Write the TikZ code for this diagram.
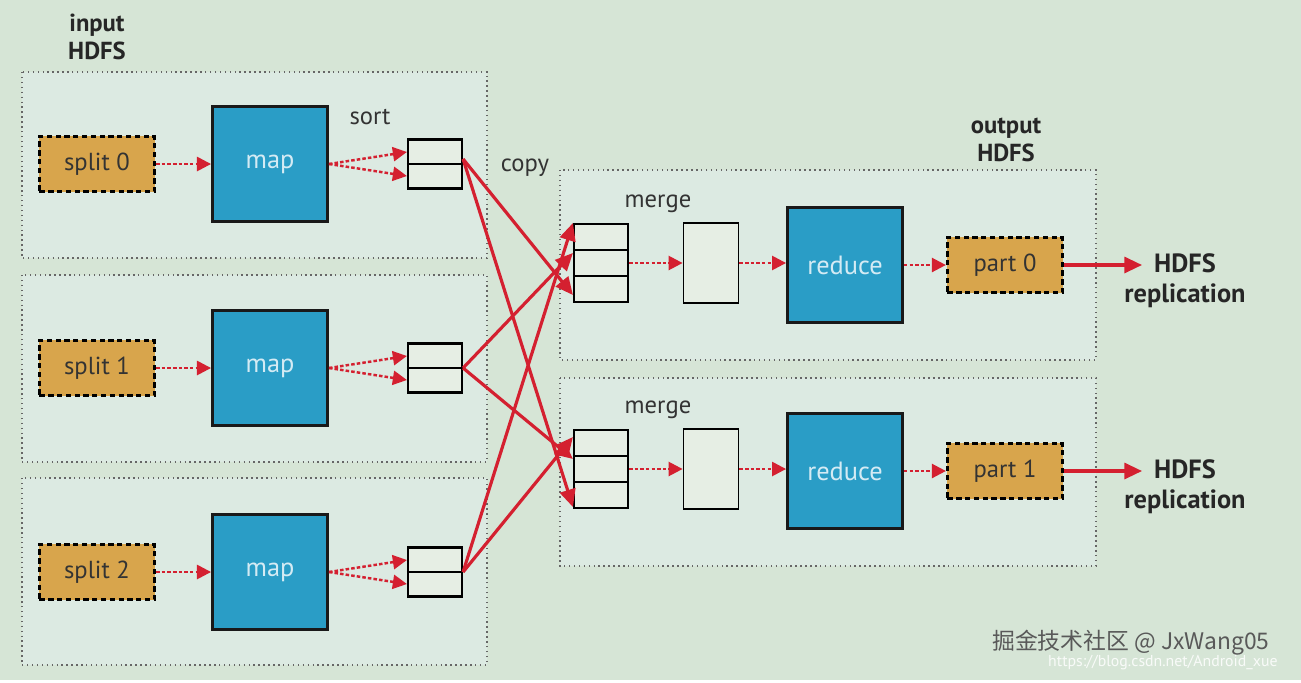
\documentclass[tikz,border=0pt]{standalone}
\usepackage{fontspec}
\setmainfont{PT Sans}
\newfontfamily\cjk{Noto Sans CJK SC}
\usetikzlibrary{arrows.meta}
\definecolor{bg}{HTML}{D6E5D6}
\definecolor{panel}{HTML}{DCEAE2}
\definecolor{orng}{HTML}{D8A54C}
\definecolor{blu}{HTML}{2A9DC6}
\definecolor{cell}{HTML}{E6EEE4}
\definecolor{arr}{HTML}{D42030}
\tikzset{
 panelbox/.style={draw=black!60,densely dotted,fill=panel,line width=0.4pt},
 split/.style={draw=black,dash pattern=on 1.5pt off 1pt,line width=0.9pt,fill=orng,minimum width=1.15cm,minimum height=0.55cm,inner sep=1pt,font=\fontsize{7}{7}\selectfont,text=black!80},
 mapb/.style={draw=black!90,line width=0.8pt,fill=blu,minimum width=1.15cm,minimum height=1.15cm,inner sep=1pt,text=blu!20,font=\fontsize{7.5}{7.5}\selectfont},
 buf/.style={draw=black,line width=0.6pt,fill=cell,minimum width=0.54cm,inner sep=0pt},
 dotar/.style={draw=arr,dash pattern=on 1pt off 0.6pt,line width=0.7pt,-{Triangle[length=4pt,width=4pt]}},
 copyar/.style={draw=arr,line width=0.9pt,-{Triangle[length=5pt,width=4.5pt]}},
 lbl/.style={font=\fontsize{7}{7}\selectfont,text=black!80},
 blbl/.style={font=\bfseries\fontsize{7}{8}\selectfont,align=center,text=black!85}
}
\begin{document}
\begin{tikzpicture}[x=0.01cm,y=-0.01cm]
\fill[bg] (0,0) rectangle (1301,680);
% panels
\foreach \n/\ya/\yb in {i0/72/258,i1/275/462,i2/478/665}
  \draw[panelbox] (22,\ya) rectangle (487,\yb);
\foreach \n/\ya/\yb in {o0/170/360,o1/378/566}
  \draw[panelbox] (560,\ya) rectangle (1096,\yb);
\node[blbl] (inlbl) at (97,37) {input\\HDFS};
\node[blbl] (outlbl) at (1006,140) {output\\HDFS};
% map side
\foreach \i/\y in {0/164,1/368,2/572}{
  \node[split] (s\i) at (97,\y) {split \i};
  \node[mapb] (m\i) at (270,\y) {map};
  \node[buf,minimum height=0.49cm] (b\i) at (435,\y) {};
  \draw[line width=0.6pt] (b\i.west) -- (b\i.east);
  \draw[dotar] (s\i) -- (m\i);
  \draw[dotar] (m\i.east) -- ([yshift=0.12cm]b\i.west);
  \draw[dotar] (m\i.east) -- ([yshift=-0.12cm]b\i.west);
}
\node[lbl] (sortl) at (370,117) {sort};
\node[lbl] (copyl) at (525,168) {copy};
% reduce side
\foreach \i/\y in {0/263,1/469}{
  \node[buf,minimum height=0.78cm] (g\i) at (601,\y) {};
  \draw[line width=0.6pt] ([yshift=0.13cm]g\i.west) -- ([yshift=0.13cm]g\i.east);
  \draw[line width=0.6pt] ([yshift=-0.13cm]g\i.west) -- ([yshift=-0.13cm]g\i.east);
  \node[buf,minimum width=0.55cm,minimum height=0.8cm,line width=0.5pt] (c\i) at (711,\y) {};
  \node[mapb] (r\i) at (845,\y+2) {reduce};
  \node[split] (p\i) at (1005,\y+2) {part \i};
  \node[blbl,font=\bfseries\fontsize{7.5}{8.5}\selectfont] (h\i) at (1185,\y+18) {HDFS\\replication};
  \node[lbl] (ml\i) at (658,\y-59) {merge};
  \draw[dotar] (g\i) -- (c\i);
  \draw[dotar] (c\i) -- (r\i.west |- c\i);
  \draw[dotar] (r\i.east |- p\i) -- (p\i);
  \draw[copyar] (p\i) -- ([xshift=0.3cm]h\i.west |- p\i);
}
% copy arrows
\draw[copyar] ([yshift=0.05cm]b0.east) -- ([yshift=-0.32cm]g0.west);
\draw[copyar] ([yshift=0.05cm]b0.east) -- ([yshift=-0.38cm]g1.west);
\draw[copyar] (b1.east) -- ([yshift=0.1cm]g0.west);
\draw[copyar] (b1.east) -- ([yshift=0.1cm]g1.west);
\draw[copyar] (b2.east) -- ([yshift=0.4cm]g0.west);
\draw[copyar] (b2.east) -- ([yshift=0.32cm]g1.west);
% watermark
\node[anchor=east,text=black!65,font=\cjk\fontsize{6.5}{6.5}\selectfont] (wm) at (1282,643) {掘金技术社区 @ JxWang05};
\node[anchor=east,text=white!85!bg,font=\fontsize{4.5}{4.5}\selectfont] (wm2) at (1290,663) {https://blog.csdn.net/Android\_xue};
\end{tikzpicture}
\end{document}
